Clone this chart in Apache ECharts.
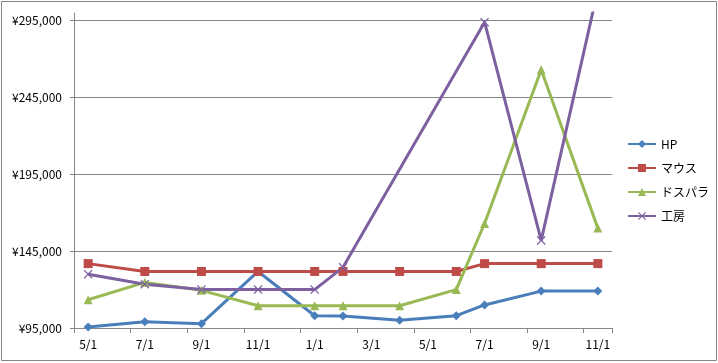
<!DOCTYPE html>
<html><head><meta charset="utf-8">
<script src="https://cdn.jsdelivr.net/npm/echarts@6/dist/echarts.min.js"></script>
<style>html,body{margin:0;padding:0;background:#fff}#c{width:718px;height:363px}</style>
</head><body><div id="c"></div>
<script>
// monthly slots, May (year 1) .. Nov (year 2)
const categories = ['5/1','6/1','7/1','8/1','9/1','10/1','11/1','12/1','1/1','2/1','3/1','4/1','5/1','6/1','7/1','8/1','9/1','10/1','11/1'];
const yTicks = [95000,145000,195000,245000,295000];
const seriesNames = ['HP','マウス','ドスパラ','工房'];
const hp     = [95700,null,99000,null,97800,null,131800,null,103000,102800,null,100000,null,103000,110000,null,119000,null,119000];
const mouse  = [136900,null,131800,null,131800,null,131800,null,131800,131800,null,131800,null,131800,136900,null,136900,null,136900];
const dospara= [113400,null,124700,null,119500,null,109500,null,109500,109500,null,109500,null,120000,163000,null,263000,null,160000];
const koubou = [130000,null,123500,null,120000,null,120000,null,120000,134500,null,null,null,null,294000,null,152000,null,315000];

const colors = ['#4A7EBB','#BE4B48','#98B954','#7D60A0'];
const symbols = ['diamond','rect','triangle','path://M0,1L1,0L5,4L9,0L10,1L6,5L10,9L9,10L5,6L1,10L0,9L4,5Z'];
const sizes = [9,9,9,9];
const values = [hp, mouse, dospara, koubou];
const FONT = '"Noto Sans CJK JP", "Noto Sans", sans-serif';

const chart = echarts.init(document.getElementById('c'), null, {renderer:'canvas'});
chart.setOption({
  animation:false,
  backgroundColor:'#fff',
  textStyle:{fontFamily:FONT},
  graphic:[{type:'rect', shape:{x:1.5,y:1.5,width:715,height:359}, style:{fill:'none', stroke:'#868686', lineWidth:1}, silent:true}],
  grid:{left:74, right:106, top:13, bottom:35},
  legend:{
    orient:'vertical', left:627, top:137, padding:0, itemWidth:28, itemHeight:10, itemGap:10,
    textStyle:{fontSize:12, color:'#000', fontFamily:FONT, lineHeight:14},
    data:seriesNames
  },
  xAxis:{
    type:'category', data:categories, boundaryGap:true,
    axisLine:{lineStyle:{color:'#868686', width:1}},
    axisTick:{show:true, interval:1, length:5, lineStyle:{color:'#868686'}},
    axisLabel:{interval:1, color:'#000', fontSize:12, margin:10, fontFamily:FONT},
    splitLine:{show:false}
  },
  yAxis:{
    type:'value', min:95000, max:300000, interval:50000,
    axisLine:{show:true, lineStyle:{color:'#868686', width:1}},
    axisTick:{show:true, length:4, lineStyle:{color:'#868686'}, customValues:yTicks},
    axisLabel:{color:'#000', fontSize:12, margin:12, fontFamily:FONT, customValues:yTicks,
      formatter:v=>'¥'+Math.round(v).toLocaleString('en-US')},
    splitLine:{show:true, lineStyle:{color:'#868686', width:1}}
  },
  series: seriesNames.map((n,i)=>({
    name:n, type:'line', data:values[i], connectNulls:true,
    symbol:symbols[i], symbolSize:sizes[i], showAllSymbol:true,
    lineStyle:{width:3, color:colors[i]},
    itemStyle:{color:colors[i]},
    emphasis:{disabled:true}
  }))
});
</script></body></html>
